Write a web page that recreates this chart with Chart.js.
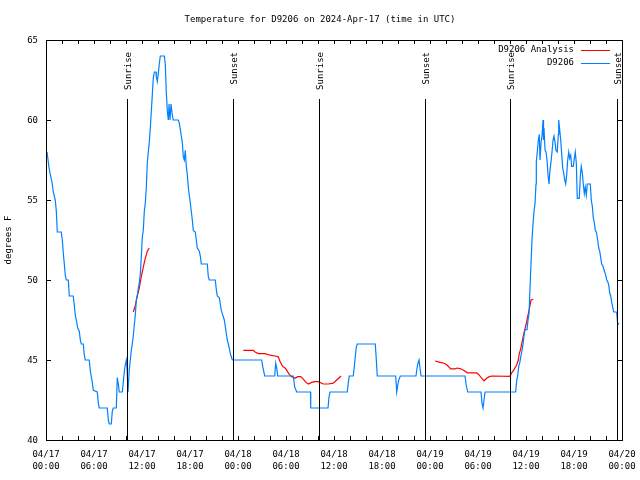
<!DOCTYPE html>
<html>
<head>
<meta charset="utf-8">
<title>Temperature for D9206</title>
<script src="https://cdn.jsdelivr.net/npm/chart.js@4.4.1/dist/chart.umd.min.js"></script>
<style>
  html, body { margin: 0; padding: 0; background: #fff; }
  #wrap { width: 640px; height: 480px; }
</style>
</head>
<body>
<div id="wrap"><canvas id="tempChart" width="640" height="480"></canvas></div>
<script>
// ── DATA ─────────────────────────────────────────────
// x = hours since 2024-04-17 00:00 UTC, y = degrees F
const titleText = 'Temperature for D9206 on 2024-Apr-17 (time in UTC)';

const xTickHours = [0, 6, 12, 18, 24, 30, 36, 42, 48, 54, 60, 66, 72];
const xTickDates = ['04/17','04/17','04/17','04/17','04/18','04/18','04/18','04/18','04/19','04/19','04/19','04/19','04/20'];
const xTickTimes = ['00:00','06:00','12:00','18:00','00:00','06:00','12:00','18:00','00:00','06:00','12:00','18:00','00:00'];
const yTicks = [40, 45, 50, 55, 60, 65];

const sunriseHours = [10.15, 34.13, 58.05];
const sunsetHours  = [23.42, 47.42, 71.42];

// Station observations (blue)
const obsHours = [
  0.13, 0.38, 0.54, 0.79, 0.91, 1.16, 1.29, 1.41, 1.91, 2.04, 2.16, 2.29, 2.41, 2.54, 2.79, 2.91,
  3.41, 3.54, 3.66, 3.79, 3.96, 4.16, 4.29, 4.41, 4.66, 4.79, 4.91, 5.41, 5.54, 5.79, 5.91,
  6.41, 6.54, 6.66, 7.66, 7.79, 7.91, 8.16, 8.29, 8.41, 8.79, 8.91, 9.04, 9.16, 9.54, 9.66,
  9.79, 9.91, 10.04, 10.13, 10.25, 10.41, 10.54, 10.66, 10.79, 10.91, 11.04, 11.16, 11.29,
  11.41, 11.54, 11.66, 11.79, 11.91, 12.04, 12.16, 12.29, 12.41, 12.54, 12.66, 12.79, 12.91,
  13.04, 13.16, 13.29, 13.41, 13.54, 13.75, 13.79, 13.91, 14.04, 14.16, 14.29, 14.79, 14.91,
  15.04, 15.16, 15.29, 15.38, 15.5, 15.63, 15.79, 15.91, 16.54, 16.66, 16.79, 16.91, 17.04,
  17.16, 17.29, 17.41, 17.54, 17.66, 17.79, 17.91, 18.04, 18.16, 18.29, 18.41, 18.66, 18.79,
  18.91, 19.16, 19.29, 19.41, 20.16, 20.29, 20.41, 21.16, 21.29, 21.41, 21.66, 21.79, 21.91,
  22.04, 22.16, 22.29, 22.41, 22.66, 22.79, 22.91, 23.04, 23.16, 23.29,
  26.96, 27.09, 27.21, 27.34, 28.59, 28.71, 28.84, 28.96, 30.91, 31.09, 31.34, 33.06, 33.09,
  35.25, 35.38, 35.5, 37.66, 37.79, 37.91, 38.41, 38.54, 38.66, 38.79, 38.91, 41.16, 41.29,
  41.41, 43.71, 43.84, 43.96, 44.09, 44.29, 46.25, 46.38, 46.5, 46.63, 46.75, 46.88,
  52.38, 52.5, 52.71, 54.38, 54.5, 54.63, 54.75, 54.88, 58.71, 58.84, 58.96, 59.09, 59.21,
  59.34, 59.5, 59.63, 59.75, 59.88, 60.13, 60.25, 60.38, 60.5, 60.63, 60.75, 60.88, 61.0,
  61.13, 61.25, 61.29, 61.41, 61.54, 61.66, 61.75, 61.88, 62.0, 62.13, 62.19, 62.25, 62.38,
  62.5, 62.63, 62.75, 62.88, 63.0, 63.13, 63.25, 63.38, 63.5, 63.63, 63.75, 63.91, 64.04,
  64.09, 64.21, 64.34, 64.46, 64.59, 64.71, 64.84, 64.96, 65.09, 65.21, 65.34, 65.46, 65.59,
  65.71, 65.91, 66.04, 66.16, 66.29, 66.41, 66.66, 66.79, 66.91, 67.04, 67.16, 67.29, 67.41,
  67.54, 67.66, 68.04, 68.16, 68.29, 68.41, 68.54, 68.66, 68.79, 68.96, 69.09, 69.21, 69.34,
  69.46, 69.59, 69.71, 69.84, 69.96, 70.09, 70.21, 70.34, 70.46, 70.59, 70.71, 70.84, 70.96,
  71.34, 71.46, 71.63
];
const obsTemps = [
  58, 57, 56.6, 56, 55.5, 55, 54.3, 53, 53, 52.5, 51.7, 51, 50.3, 50, 50, 49,
  49, 48.4, 47.8, 47.5, 47, 46.8, 46.25, 46, 46, 45.3, 45, 45, 44.3, 43.6, 43.1,
  43, 42.3, 42, 42, 41.25, 41, 41, 41.8, 42, 42, 43.9, 43.5, 43, 43, 43.6,
  44.3, 44.7, 45, 44.5, 43, 44.4, 45, 45.6, 46, 46.5, 47.2, 47.8, 48.75,
  49, 49.5, 49.8, 50.4, 51.4, 52.7, 53.1, 54.3, 54.8, 55.8, 57.3, 58, 58.6,
  59.5, 60.5, 61.6, 62.6, 63, 63, 62.7, 62.4, 62.9, 63.5, 64, 64, 63.5,
  61.7, 60.6, 60, 61, 60, 61, 60.3, 60, 60, 59.8, 59.4, 59, 58.6,
  57.7, 57.5, 58.1, 57.1, 56.6, 55.8, 55.3, 54.8, 54.3, 53.75, 53.1, 53, 52.5,
  52, 51.8, 51.5, 51, 51, 50.2, 50, 50, 49.4, 49, 48.9, 48.5, 48.1,
  47.9, 47.7, 47.5, 47.1, 46.25, 46, 45.75, 45.4, 45.2, 45,
  45, 44.6, 44.3, 44, 44, 44.8, 44.5, 44, 44, 43.3, 43, 43, 42,
  42, 42.7, 43, 43, 43.6, 44, 44, 44.6, 45.2, 45.8, 46, 46, 45,
  44, 44, 43, 43.4, 43.75, 44, 44, 44.5, 44.8, 45, 44.5, 44,
  44, 43.5, 43, 43, 42.3, 42, 42.5, 43, 43, 43.75, 44, 44.6, 44.8,
  45.2, 45.6, 46, 46.5, 46.9, 46.9, 47.5, 47.9, 49.5, 51.1, 52.5, 53.5, 54.3,
  54.8, 56, 57.4, 58, 58.75, 59.1, 57.5, 58.6, 59, 60, 58.75, 59.5, 58.1,
  58, 57.5, 56.6, 56, 56.9, 57.4, 58, 58.75, 59, 58.6, 58.1, 58, 59.1,
  60, 59.4, 58.75, 57.9, 57, 56.7, 56.25, 56, 56.6, 57.5, 58, 57.6, 57.8,
  57.1, 57.1, 57.6, 58, 57.3, 55.1, 55.1, 56.5, 57.1, 56.7, 56, 55.4, 55.8,
  55.3, 56, 56, 55, 54.6, 53.9, 53.6, 53.1, 53, 52.5, 52, 51.8, 51.4,
  51, 50.9, 50.7, 50.5, 50.3, 50, 49.9, 49.7, 49.2, 49, 48.6, 48.3, 48,
  48, 47.2, 47.3
];

// Analysis (red) - three runs, null breaks the line between them
const anaHours = [
  10.91, 11.16, 11.41, 11.66, 11.91, 12.16, 12.41, 12.66, 12.91,
  null,
  24.66, 25.91, 26.13, 26.54, 27.38, 28.0, 28.63, 29.04, 29.25, 29.59, 29.88, 30.16, 30.41,
  30.71, 31.13, 31.46, 31.84, 32.16, 32.5, 32.79, 33.21, 33.63, 34.04, 34.46, 34.66, 35.29,
  35.91, 36.34, 36.88,
  null,
  48.63, 49.25, 49.75, 50.09, 50.59, 51.13, 51.41, 51.84, 52.25, 52.66, 53.84, 54.16, 54.46,
  54.75, 55.09, 55.41, 55.71, 58.0, 58.21, 58.5, 58.84, 59.04, 59.16, 59.34, 59.5, 59.66,
  59.84, 60.0, 60.16, 60.34, 60.5, 60.63, 60.91
];
const anaTemps = [
  48.0, 48.4, 49.0, 49.5, 50.2, 50.8, 51.35, 51.8, 52.0,
  null,
  45.6, 45.6, 45.5, 45.4, 45.4, 45.3, 45.25, 45.2, 44.9, 44.6, 44.5, 44.3, 44.1,
  43.96, 43.86, 43.96, 43.96, 43.8, 43.6, 43.5, 43.6, 43.65, 43.65, 43.55, 43.5, 43.5,
  43.55, 43.75, 44.0,
  null,
  44.94, 44.85, 44.8, 44.7, 44.45, 44.45, 44.5, 44.45, 44.35, 44.2, 44.2, 44.06, 43.86,
  43.7, 43.86, 43.96, 44.0, 43.98, 44.2, 44.4, 44.7, 45.0, 45.4, 45.7, 46.1, 46.5,
  46.9, 47.2, 47.6, 48.0, 48.4, 48.75, 48.8
];

const FONT = '9px "DejaVu Sans Mono", "Liberation Mono", monospace';

// turn the parallel arrays into {x, y} points
function toPoints(xs, ys) {
  return xs.map((x, i) => ({ x: x === null ? NaN : x, y: ys[i] }));
}

// ── PLUGIN: gnuplot-style frame, ticks, labels, sun lines ──
const gnuplotDecor = {
  id: 'gnuplotDecor',
  afterDatasetsDraw(chart) {
    const ctx = chart.ctx;
    const a = chart.chartArea;
    const xs = chart.scales.x;
    const ys = chart.scales.y;

    ctx.save();
    ctx.strokeStyle = '#000';
    ctx.lineWidth = 1;

    // frame
    ctx.strokeRect(Math.round(a.left) + 0.5, Math.round(a.top) + 0.5,
                   Math.round(a.right - a.left), Math.round(a.bottom - a.top));

    // x ticks every 2 hours, on bottom and top, pointing inward
    ctx.beginPath();
    for (let h = 0; h <= 72; h += 2) {
      const px = Math.round(xs.getPixelForValue(h)) + 0.5;
      ctx.moveTo(px, a.bottom); ctx.lineTo(px, a.bottom - 4);
      ctx.moveTo(px, a.top);    ctx.lineTo(px, a.top + 4);
    }
    // y ticks, left and right
    yTicks.forEach(v => {
      const py = Math.round(ys.getPixelForValue(v)) + 0.5;
      ctx.moveTo(a.left, py);  ctx.lineTo(a.left + 5, py);
      ctx.moveTo(a.right, py); ctx.lineTo(a.right - 5, py);
    });
    ctx.stroke();

    // sunrise / sunset lines with rotated labels
    const sunEvents = sunriseHours.map(h => ({ h: h, label: 'Sunrise' }))
      .concat(sunsetHours.map(h => ({ h: h, label: 'Sunset' })));
    ctx.font = FONT;
    ctx.fillStyle = '#000';
    sunEvents.forEach(ev => {
      const px = Math.round(xs.getPixelForValue(ev.h)) + 0.5;
      ctx.beginPath();
      ctx.moveTo(px, a.top + 59);
      ctx.lineTo(px, a.bottom);
      ctx.stroke();

      ctx.save();
      ctx.translate(px + 1, a.top + 12);
      ctx.rotate(-Math.PI / 2);
      ctx.textAlign = 'right';
      ctx.textBaseline = 'middle';
      ctx.fillText(ev.label, 0, 0);
      ctx.restore();
    });

    // y tick labels
    ctx.textAlign = 'right';
    ctx.textBaseline = 'middle';
    yTicks.forEach(v => {
      ctx.fillText(String(v), a.left - 8, ys.getPixelForValue(v) + 1);
    });

    // x tick labels (date on top line, time below)
    ctx.textAlign = 'center';
    xTickHours.forEach((h, i) => {
      const px = xs.getPixelForValue(h);
      ctx.fillText(xTickDates[i], px, a.bottom + 15);
      ctx.fillText(xTickTimes[i], px, a.bottom + 27);
    });

    // title
    ctx.fillText(titleText, 320, 20);

    // y axis title
    ctx.save();
    ctx.translate(9, 240);
    ctx.rotate(-Math.PI / 2);
    ctx.textAlign = 'center';
    ctx.fillText('degrees F', 0, 0);
    ctx.restore();

    // legend (top right, inside the frame)
    const legend = [
      { label: 'D9206 Analysis', color: chart.data.datasets[1].borderColor, y: a.top + 10 },
      { label: 'D9206',          color: chart.data.datasets[0].borderColor, y: a.top + 23 }
    ];
    ctx.textAlign = 'right';
    legend.forEach(item => {
      ctx.fillStyle = '#000';
      ctx.fillText(item.label, a.right - 48, item.y);
      ctx.strokeStyle = item.color;
      ctx.beginPath();
      ctx.moveTo(a.right - 41, item.y + 0.5);
      ctx.lineTo(a.right - 12, item.y + 0.5);
      ctx.stroke();
    });

    ctx.restore();
  }
};

// ── BUILD CHART ──────────────────────────────────────
function buildChart() {
  const ctx = document.getElementById('tempChart').getContext('2d');

  new Chart(ctx, {
    type: 'line',
    data: {
      datasets: [
        {
          label: 'D9206',
          data: toPoints(obsHours, obsTemps),
          borderColor: '#0080ff',
          borderWidth: 1.2,
          pointRadius: 0,
          tension: 0,
          fill: false
        },
        {
          label: 'D9206 Analysis',
          data: toPoints(anaHours, anaTemps),
          borderColor: '#ff0000',
          borderWidth: 1.2,
          pointRadius: 0,
          tension: 0,
          fill: false,
          spanGaps: false
        }
      ]
    },
    options: {
      responsive: false,
      animation: false,
      devicePixelRatio: 1,
      layout: { padding: { left: 0, top: 40, right: 18, bottom: 0 } },
      plugins: {
        legend: { display: false },
        title: { display: false },
        tooltip: { enabled: false }
      },
      scales: {
        x: {
          type: 'linear',
          min: 0,
          max: 72,
          ticks: { display: false },
          grid: { display: false },
          border: { display: false },
          afterFit: s => { s.height = 40; }
        },
        y: {
          min: 40,
          max: 65,
          ticks: { display: false },
          grid: { display: false },
          border: { display: false },
          afterFit: s => { s.width = 46; }
        }
      }
    },
    plugins: [gnuplotDecor]
  });
}

window.onload = buildChart;
</script>
</body>
</html>
